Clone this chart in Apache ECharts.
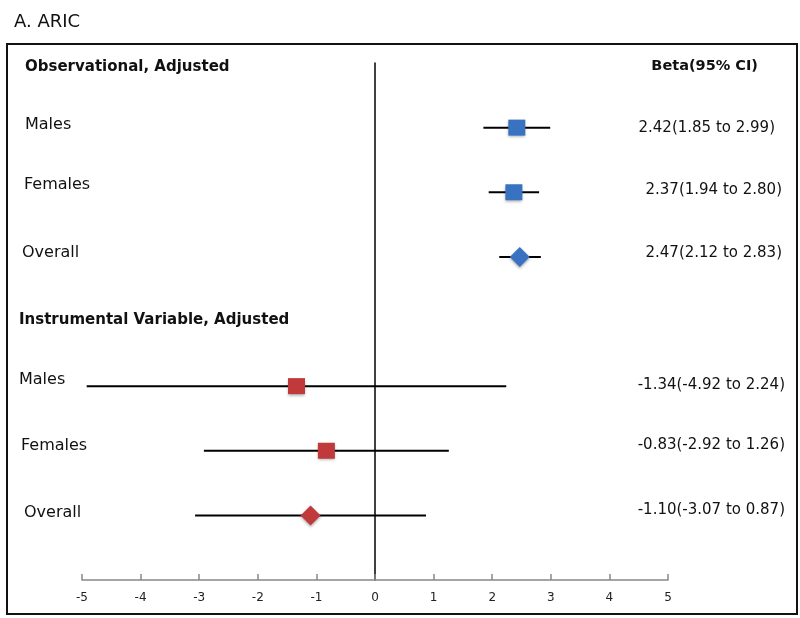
<!DOCTYPE html>
<html>
<head>
<meta charset="utf-8">
<script src="https://cdn.jsdelivr.net/npm/echarts@6/dist/echarts.min.js"></script>
<style>html,body{margin:0;padding:0;background:#fff}#c{width:800px;height:618px}</style>
</head>
<body>
<div id="c"></div>
<script>
// ---- data ----
const rowLabels = ['Males', 'Females', 'Overall', 'Males', 'Females', 'Overall'];
const rowPos = [1, 2, 3, 5, 6, 7];          // row slot (vertical order)
const estimates = [2.42, 2.37, 2.47, -1.34, -0.83, -1.10];
const lowerCI = [1.85, 1.94, 2.12, -4.92, -2.92, -3.07];
const upperCI = [2.99, 2.80, 2.83, 2.24, 1.26, 0.87];
const groupIdx = [0, 0, 0, 1, 1, 1];        // 0 observational, 1 instrumental
const isOverall = [false, false, true, false, false, true];
const xTicks = [-5, -4, -3, -2, -1, 0, 1, 2, 3, 4, 5];
const groupTitles = ['Observational, Adjusted', 'Instrumental Variable, Adjusted'];
const groupColors = ['#3A72C2', '#C0393B'];

const FONT = 'DejaVu Sans';
const chart = echarts.init(document.getElementById('c'));

const ciData = rowPos.map((p, i) => [lowerCI[i], upperCI[i], p]);
const squares = [], diamonds = [];
rowPos.forEach((p, i) => {
  const item = { value: [estimates[i], p], itemStyle: { color: groupColors[groupIdx[i]] } };
  (isOverall[i] ? diamonds : squares).push(item);
});

// text positions (left and right columns)
const labelX = [25, 24, 22, 19, 21, 24];
const labelY = [125, 185, 253, 380, 446, 513];
const valueRight = [775, 782, 782, 785, 785, 785];
const valueY = [128, 190, 253, 385, 445, 510];

const graphics = [
  { type: 'rect', shape: { x: 7, y: 44, width: 790, height: 570 }, style: { fill: 'none', stroke: '#111', lineWidth: 2 }, z: 10 },
  { type: 'text', x: 14, y: 22, style: { text: 'A. ARIC', font: '18px "' + FONT + '"', fill: '#111', verticalAlign: 'middle' } },
  { type: 'text', x: 25, y: 67, style: { text: groupTitles[0], font: 'bold 15px "' + FONT + '"', fill: '#111', verticalAlign: 'middle' } },
  { type: 'text', x: 19, y: 320, style: { text: groupTitles[1], font: 'bold 15px "' + FONT + '"', fill: '#111', verticalAlign: 'middle' } },
  { type: 'text', x: 758, y: 66, style: { text: 'Beta(95% CI)', font: 'bold 14.5px "' + FONT + '"', fill: '#111', align: 'right', verticalAlign: 'middle' } }
];
rowLabels.forEach((lab, i) => {
  graphics.push({ type: 'text', x: labelX[i], y: labelY[i], style: { text: lab, font: '16px "' + FONT + '"', fill: '#111', verticalAlign: 'middle' } });
  graphics.push({ type: 'text', x: valueRight[i], y: valueY[i], style: {
    text: estimates[i].toFixed(2) + '(' + lowerCI[i].toFixed(2) + ' to ' + upperCI[i].toFixed(2) + ')',
    font: '15px "' + FONT + '"', fill: '#111', align: 'right', verticalAlign: 'middle' } });
});

chart.setOption({
  animation: false,
  backgroundColor: '#fff',
  grid: { left: 82, right: 132, top: 63, bottom: 38 },
  xAxis: {
    type: 'value', min: -5, max: 5, interval: 1,
    axisLine: { show: true, onZero: false, lineStyle: { color: '#888', width: 1.5 } },
    axisTick: { show: true, inside: true, length: 6, lineStyle: { color: '#888', width: 1.5 } },
    axisLabel: { color: '#222', fontSize: 12, fontFamily: 'DejaVu Sans', margin: 12,
      formatter: v => xTicks.includes(v) ? String(v) : '' },
    splitLine: { show: false }
  },
  yAxis: {
    type: 'value', min: 0, max: 8, inverse: true,
    axisLine: { show: true, onZero: true, lineStyle: { color: '#000', width: 1.5 } },
    axisTick: { show: false }, axisLabel: { show: false }, splitLine: { show: false }
  },
  graphic: graphics,
  series: [
    {
      type: 'custom', data: ciData, encode: { x: [0, 1], y: 2 }, z: 2,
      renderItem: function (params, api) {
        const a = api.coord([api.value(0), api.value(2)]);
        const b = api.coord([api.value(1), api.value(2)]);
        return { type: 'line', shape: { x1: a[0], y1: a[1], x2: b[0], y2: b[1] }, style: { stroke: '#000', lineWidth: 2 } };
      }
    },
    {
      type: 'scatter', data: squares, symbol: 'rect', symbolSize: [17, 16], z: 3,
      itemStyle: { opacity: 1, shadowBlur: 3, shadowColor: 'rgba(0,0,0,0.35)', shadowOffsetY: 1.5 }
    },
    {
      type: 'scatter', data: diamonds, symbol: 'diamond', symbolSize: [20, 20], z: 3,
      itemStyle: { opacity: 1, shadowBlur: 3, shadowColor: 'rgba(0,0,0,0.35)', shadowOffsetY: 1.5 }
    }
  ]
});
</script>
</body>
</html>
